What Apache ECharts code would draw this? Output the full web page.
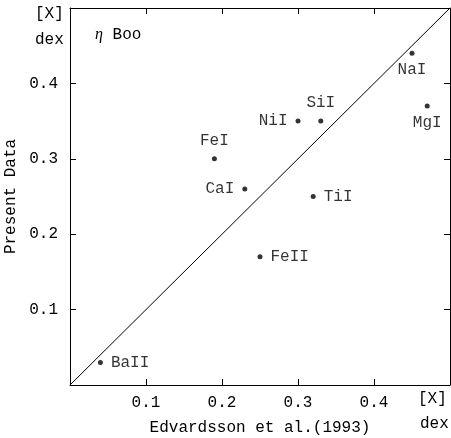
<!DOCTYPE html>
<html>
<head>
<meta charset="utf-8">
<script src="https://cdn.jsdelivr.net/npm/echarts@6/dist/echarts.min.js"></script>
<style>
  html, body { margin: 0; padding: 0; background: #fff; }
  #chart { width: 451px; height: 438px; }
</style>
</head>
<body>
<div id="chart"></div>
<script>
// abundances [X] in dex
const elements = ['BaII', 'NaI', 'MgI', 'SiI', 'NiI', 'FeI', 'CaI', 'TiI', 'FeII'];
const edvardsson = [0.04, 0.45, 0.47, 0.33, 0.30, 0.19, 0.23, 0.32, 0.25];
const presentData = [0.03, 0.44, 0.37, 0.35, 0.35, 0.30, 0.26, 0.25, 0.17];
const labelPos = ['right', 'bottom', 'bottom', 'top', 'left', 'top', 'left', 'right', 'right'];
const tickValues = [0.1, 0.2, 0.3, 0.4];

const font = 'Liberation Mono';
const chart = echarts.init(document.getElementById('chart'));

const tickLabel = v => (tickValues.some(t => Math.abs(t - v) < 1e-9) ? v.toFixed(1) : '');

const baseAxis = {
  type: 'value',
  min: 0,
  max: 0.5,
  interval: 0.1,
  axisLine: { show: true, onZero: false, lineStyle: { color: '#000', width: 1 } },
  axisTick: { show: true, inside: true, length: 6, lineStyle: { color: '#000' } },
  splitLine: { show: false }
};

const points = elements.map((name, i) => ({
  name,
  value: [edvardsson[i], presentData[i]],
  label: {
    position: labelPos[i],
    distance: labelPos[i] === 'bottom' ? 6 : 8
  }
}));

const option = {
  animation: false,
  grid: { left: 70, right: 1, top: 8, bottom: 53, containLabel: false, outerBoundsMode: 'none' },
  xAxis: [
    Object.assign({}, baseAxis, {
      position: 'bottom',
      name: 'Edvardsson et al.(1993)',
      nameLocation: 'middle',
      nameGap: 35,
      nameTextStyle: { color: '#000', fontFamily: font, fontSize: 16 },
      axisLabel: { color: '#000', fontFamily: font, fontSize: 16, margin: 10, formatter: tickLabel }
    }),
    Object.assign({}, baseAxis, {
      position: 'top',
      axisLabel: { show: false }
    })
  ],
  yAxis: [
    Object.assign({}, baseAxis, {
      position: 'left',
      name: 'Present Data',
      nameLocation: 'middle',
      nameGap: 46,
      nameTextStyle: { color: '#000', fontFamily: font, fontSize: 16 },
      axisLabel: { color: '#000', fontFamily: font, fontSize: 16, margin: 12, formatter: tickLabel }
    }),
    Object.assign({}, baseAxis, {
      position: 'right',
      axisLabel: { show: false }
    })
  ],
  series: [
    {
      type: 'line',
      data: [[0, 0], [0.5, 0.5]],
      symbol: 'none',
      lineStyle: { color: '#000', width: 1 },
      silent: true
    },
    {
      type: 'scatter',
      data: points,
      symbolSize: 5,
      itemStyle: { color: '#000' },
      label: {
        show: true,
        formatter: '{b}',
        color: '#000',
        fontFamily: font,
        fontSize: 16
      }
    }
  ],
  graphic: [
    { type: 'text', left: 35, top: 6, style: { text: '[X]', fill: '#000', font: '16px "Liberation Mono"' } },
    { type: 'text', left: 35, top: 32, style: { text: 'dex', fill: '#000', font: '16px "Liberation Mono"' } },
    { type: 'text', left: 418, top: 391, style: { text: '[X]', fill: '#000', font: '16px "Liberation Mono"' } },
    { type: 'text', left: 420, top: 416, style: { text: 'dex', fill: '#000', font: '16px "Liberation Mono"' } },
    {
      type: 'text', left: 95, top: 27,
      style: {
        text: '{e|η} Boo',
        fill: '#000',
        font: '16px "Liberation Mono"',
        rich: { e: { fontFamily: 'Liberation Serif', fontStyle: 'italic', fontSize: 16 } }
      }
    }
  ]
};

chart.setOption(option);
</script>
</body>
</html>
